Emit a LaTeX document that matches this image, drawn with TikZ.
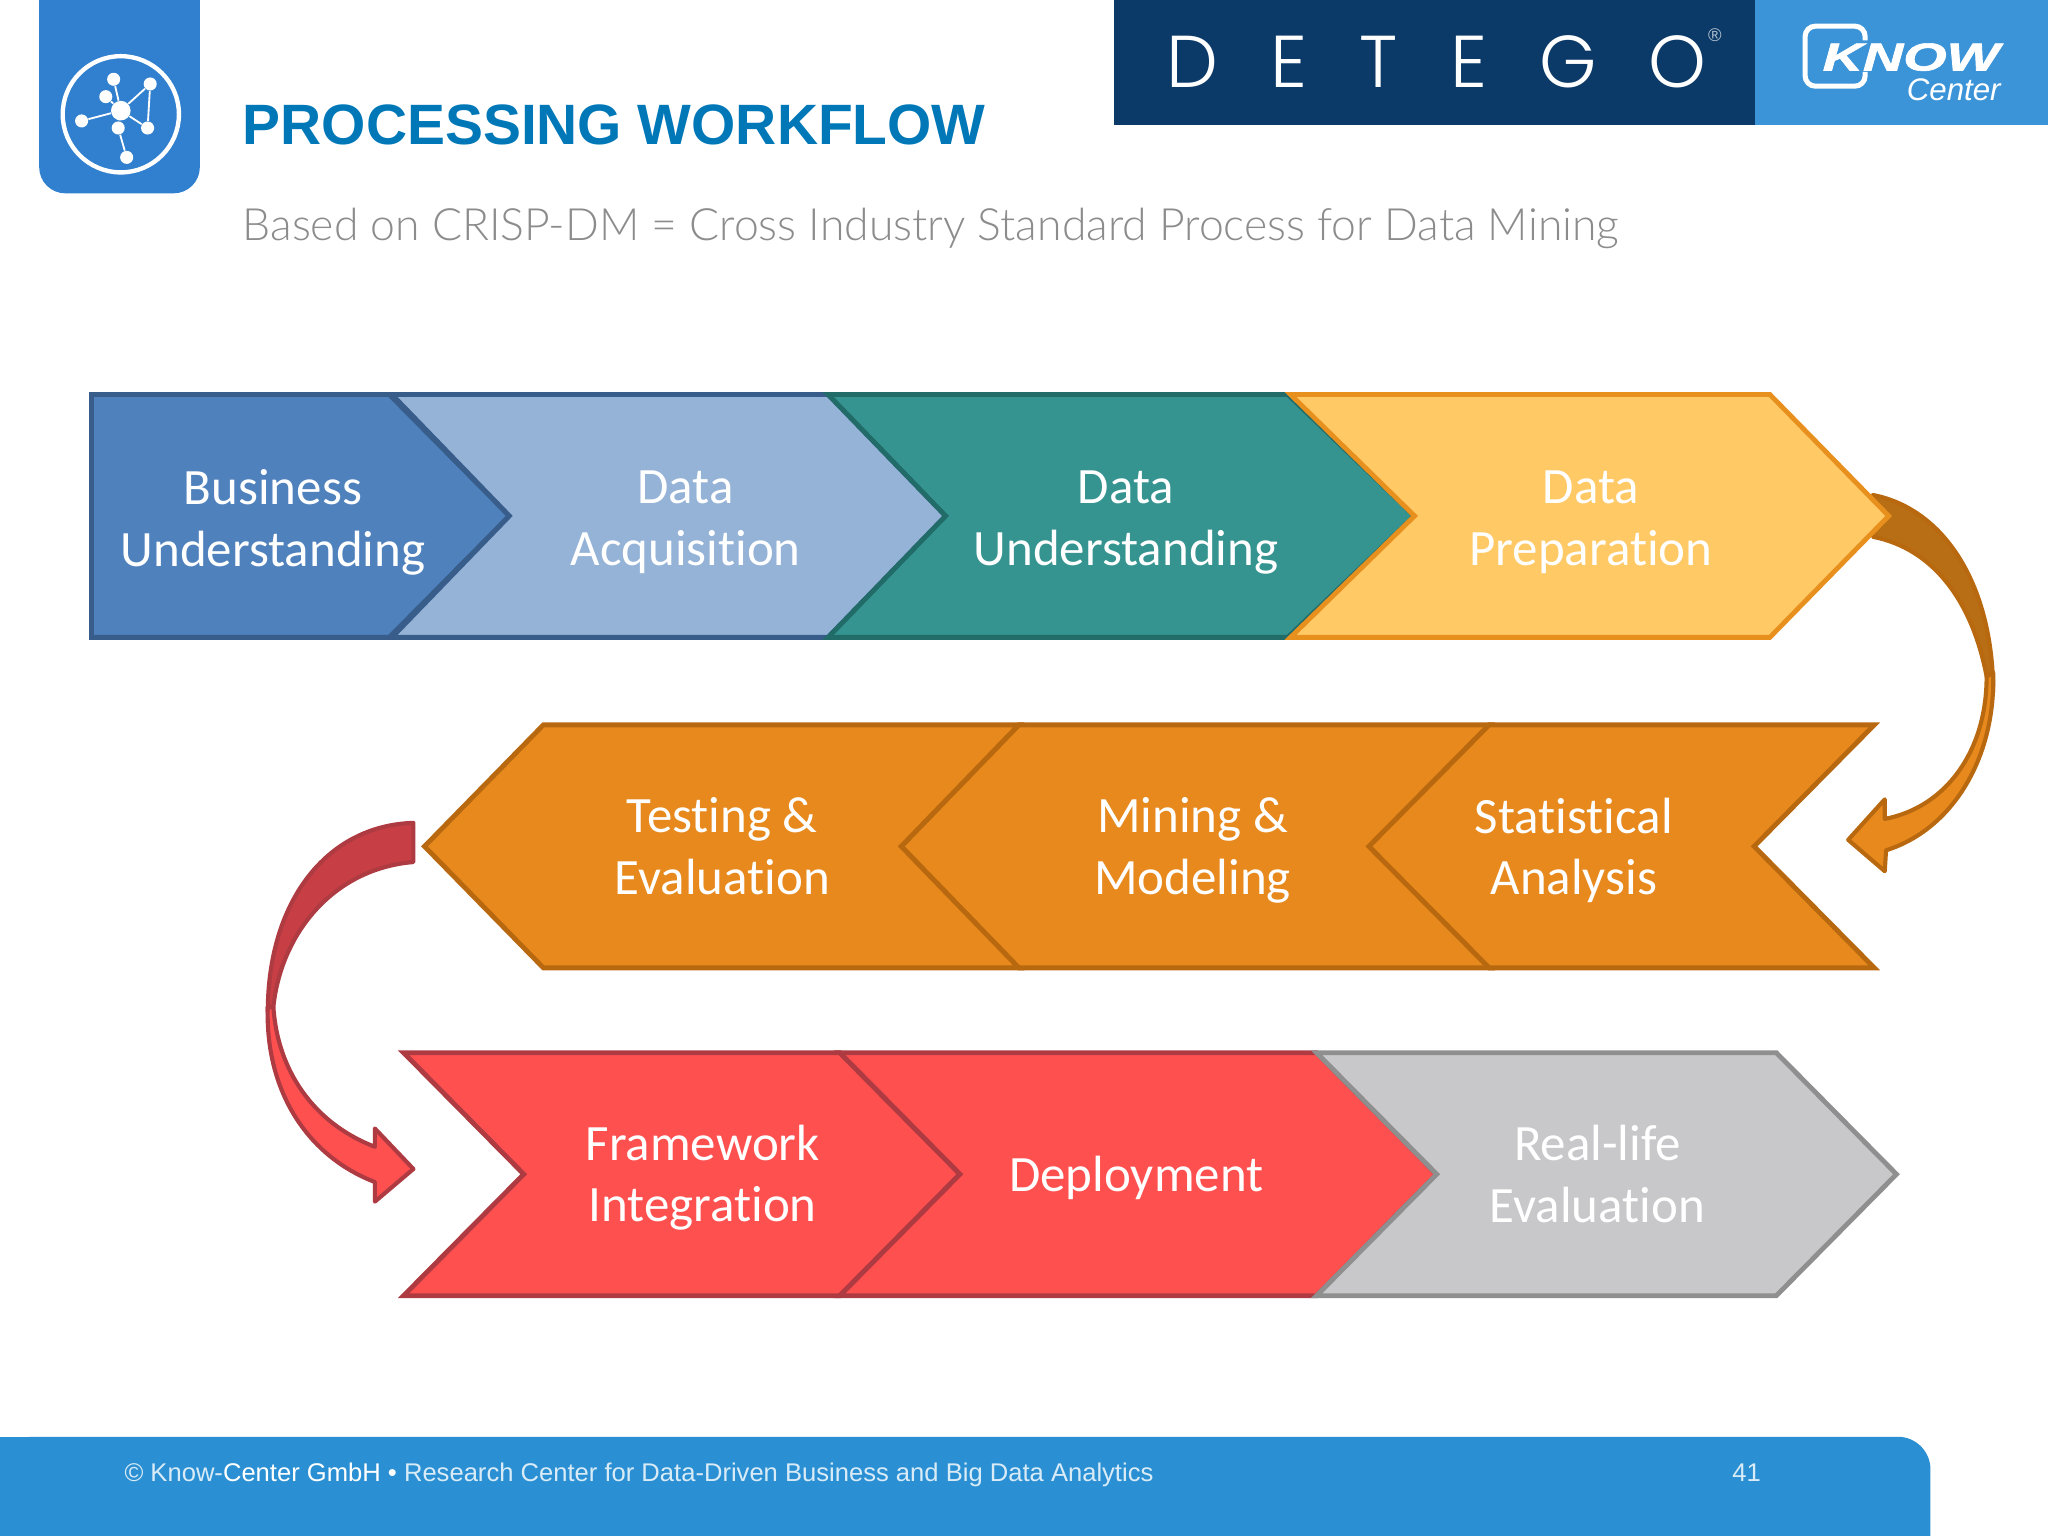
\documentclass[tikz,border=0pt]{standalone}
\usepackage{fontspec}
\setmainfont{Liberation Sans}
\newfontfamily\labelfont[Ligatures=NoCommon]{Carlito}
\newfontfamily\thinfont{Lato Light}
\newfontfamily\brandfont[LetterSpace=71]{Poppins Light}
\newfontfamily\knowfont[FakeBold=1.5]{Liberation Sans Bold Italic}

\definecolor{barblue}{HTML}{2A90D3}
\definecolor{iconblue}{HTML}{3080CF}
\definecolor{titleblue}{HTML}{0078B8}
\definecolor{navy}{HTML}{0C3A68}
\definecolor{knowblue}{HTML}{3B94D8}
\definecolor{bizfill}{HTML}{4F81BD}
\definecolor{bizline}{HTML}{385D8A}
\definecolor{acqfill}{HTML}{95B3D7}
\definecolor{undfill}{HTML}{359490}
\definecolor{undline}{HTML}{216B68}
\definecolor{prepfill}{HTML}{FFC966}
\definecolor{prepline}{HTML}{E8901E}
\definecolor{orfill}{HTML}{E8891E}
\definecolor{orline}{HTML}{B8680F}
\definecolor{ordark}{HTML}{B86E14}
\definecolor{redfill}{HTML}{FF5050}
\definecolor{redline}{HTML}{AE3A42}
\definecolor{reddark}{HTML}{C73F44}
\definecolor{grayfill}{HTML}{C8C8CA}
\definecolor{grayline}{HTML}{8F8F8F}
\definecolor{subgray}{HTML}{8C8C8C}

\tikzset{
  chevron/.style 2 args = {fill = #1, draw = #2, line width = 2.1pt, line join = miter},
  bend/.style 2 args = {fill = #1, draw = #2, line width = 1.8pt, line join = round},
  steplabel/.style = {font = \labelfont\fontsize{22.2}{26.8}\selectfont, text = white,
    align = center},
  hub/.style = {circle, fill = white, inner sep = 0pt, minimum size = #1},
  spoke/.style = {draw = white, line width = 0.8pt}
}

\begin{document}
\begin{tikzpicture}[x = 0.02cm, y = -0.02cm]
  \useasboundingbox (0, 0) rectangle (1568, 1176);

  \fill[iconblue, rounded corners = 0.4cm] (30, -30) rectangle (153, 148);
  \draw[white, line width = 1.9pt] (92.5, 87.5) circle[radius = 44.5];
  \node[hub = 0.3cm] (netCenter) at (92.5, 84.7) {};
  \node[hub = 0.2cm] (netA) at (87, 60.7) {};
  \node[hub = 0.2cm] (netB) at (115, 64.3) {};
  \node[hub = 0.2cm] (netC) at (81, 74) {};
  \node[hub = 0.2cm] (netD) at (62.5, 92.6) {};
  \node[hub = 0.2cm] (netE) at (90.5, 98) {};
  \node[hub = 0.2cm] (netF) at (113, 98) {};
  \node[hub = 0.2cm] (netG) at (97, 120.5) {};
  \draw[spoke] (netCenter) -- (netA);
  \draw[spoke] (netCenter) -- (netB);
  \draw[spoke] (netCenter) -- (netC);
  \draw[spoke] (netCenter) -- (netD);
  \draw[spoke] (netCenter) -- (netE);
  \draw[spoke] (netCenter) -- (netF);
  \draw[spoke] (netB) -- (netF);
  \draw[spoke] (netE) -- (netG);

  \node[anchor = base west, inner sep = 0pt, text = titleblue,
  font = \bfseries\fontsize{24.8}{28}\selectfont] (title) at (185.5, 111)
  {PROCESSING WORKFLOW};
  \node[anchor = base west, inner sep = 0pt, text = subgray,
  font = \thinfont\fontsize{19.4}{22}\selectfont] (subtitle) at (185.5, 184)
  {Based on CRISP-DM = Cross Industry Standard Process for Data Mining};

  \fill[navy] (853, 0) rectangle (1344, 96);
  \fill[knowblue] (1344, 0) rectangle (1568, 96);
  \node[anchor = base west, inner sep = 0pt, text = white,
  font = \brandfont\fontsize{32}{36}\selectfont] (detego) at (893, 67) {DETEGO};
  \node[inner sep = 0pt, text = white!70!navy, font = \fontsize{8}{9}\selectfont]
  (regmark) at (1313, 27) {®};
  \draw[white, line width = 2.2pt, rounded corners = 0.16cm]
  (1428, 31) -- (1428, 20) -- (1382, 20) -- (1382, 66) -- (1428, 66) -- (1428, 55);
  \node[anchor = base west, inner sep = 0pt, text = white, xscale = 1.43,
  font = \knowfont\fontsize{17}{20}\selectfont] (know) at (1395, 54) {KNOW};
  \node[anchor = base east, inner sep = 0pt, text = white,
  font = \itshape\fontsize{13.6}{16}\selectfont] (center) at (1532, 77) {Center};

  \draw[bend = {ordark}{orline}] (1434, 379) .. controls (1490, 390) and (1526, 450)
  .. (1526, 530) -- (1521, 518) .. controls (1510, 460) and (1480, 420) .. (1434, 411)
  -- cycle;
  \draw[bend = {orfill}{orline}] (1526, 515) .. controls (1528, 580) and (1495, 635)
  .. (1444, 651) -- (1443, 667) -- (1415, 643) -- (1443, 612) -- (1443, 627)
  .. controls (1490, 618) and (1521, 575) .. (1521, 518) -- cycle;

  \draw[bend = {reddark}{redline}] (316.5, 630) .. controls (250, 632) and (205, 690)
  .. (205, 775) -- (209.3, 771) .. controls (215, 715) and (255, 665) .. (316.5, 660)
  -- cycle;
  \draw[bend = {redfill}{redline}] (205, 771) .. controls (203, 835) and (235, 885)
  .. (287, 905) -- (287, 920) -- (316.5, 895) -- (287, 864) -- (287, 878)
  .. controls (245, 862) and (213, 825) .. (209.3, 771) -- cycle;

  \draw[chevron = {bizfill}{bizline}] (70, 302) -- (298, 302) -- (390, 395)
  -- (298, 488) -- (70, 488) -- cycle;
  \draw[chevron = {acqfill}{bizline}] (300, 302) -- (634, 302) -- (724, 395)
  -- (634, 488) -- (300, 488) -- (390, 395) -- cycle;
  \draw[chevron = {undfill}{undline}] (634, 302) -- (986, 302) -- (1083, 395)
  -- (986, 488) -- (634, 488) -- (724, 395) -- cycle;
  \draw[chevron = {prepfill}{prepline}] (988, 302) -- (1355, 302) -- (1446, 395)
  -- (1355, 488) -- (988, 488) -- (1083, 395) -- cycle;

  \draw[chevron = {orfill}{orline}] (1435, 555) -- (1140, 555) -- (1048, 648)
  -- (1140, 741) -- (1435, 741) -- (1343, 648) -- cycle;
  \draw[chevron = {orfill}{orline}] (1140, 555) -- (780, 555) -- (690, 648)
  -- (780, 741) -- (1140, 741) -- (1048, 648) -- cycle;
  \draw[chevron = {orfill}{orline}] (780, 555) -- (416, 555) -- (325, 648)
  -- (416, 741) -- (780, 741) -- (690, 648) -- cycle;

  \draw[chevron = {redfill}{redline}] (309, 806) -- (643, 806) -- (735, 899)
  -- (643, 992) -- (309, 992) -- (401, 899) -- cycle;
  \draw[chevron = {redfill}{redline}] (643, 806) -- (1008, 806) -- (1100, 899)
  -- (1008, 992) -- (643, 992) -- (735, 899) -- cycle;
  \draw[chevron = {grayfill}{grayline}] (1008, 806) -- (1360, 806) -- (1452, 899)
  -- (1360, 992) -- (1008, 992) -- (1100, 899) -- cycle;

  \node[steplabel] (business) at (209, 400) {Business\\Understanding};
  \node[steplabel] (acquisition) at (525, 400) {Data\\Acquisition};
  \node[steplabel] (understanding) at (862, 400) {Data\\Understanding};
  \node[steplabel] (preparation) at (1218, 400) {Data\\Preparation};
  \node[steplabel] (statistical) at (1205, 651) {Statistical\\Analysis};
  \node[steplabel] (mining) at (913, 651) {Mining \&\\Modeling};
  \node[steplabel] (testing) at (553, 648) {Testing \&\\Evaluation};
  \node[steplabel] (framework) at (538, 901.5) {Framework\\Integration};
  \node[steplabel] (deployment) at (870, 902) {Deployment};
  \node[steplabel] (reallife) at (1223, 899) {Real-life\\Evaluation};

  \fill[barblue, rounded corners = 0.5cm] (0, 1100) -- (1478, 1100) -- (1478, 1220)
  -- (0, 1220) -- cycle;
  \fill[barblue] (0, 1100) rectangle (100, 1176);
  \node[anchor = base west, inner sep = 0pt, text = white!82!barblue,
  font = \fontsize{11.15}{14}\selectfont] (footer) at (95, 1134)
  {© Know-\textcolor{white}{Center GmbH •} Research Center for Data-Driven Business and Big Data Analytics};
  \node[anchor = base west, inner sep = 0pt, text = white!82!barblue,
  font = \fontsize{11.15}{14}\selectfont] (pagenum) at (1326, 1134) {41};
\end{tikzpicture}
\end{document}
